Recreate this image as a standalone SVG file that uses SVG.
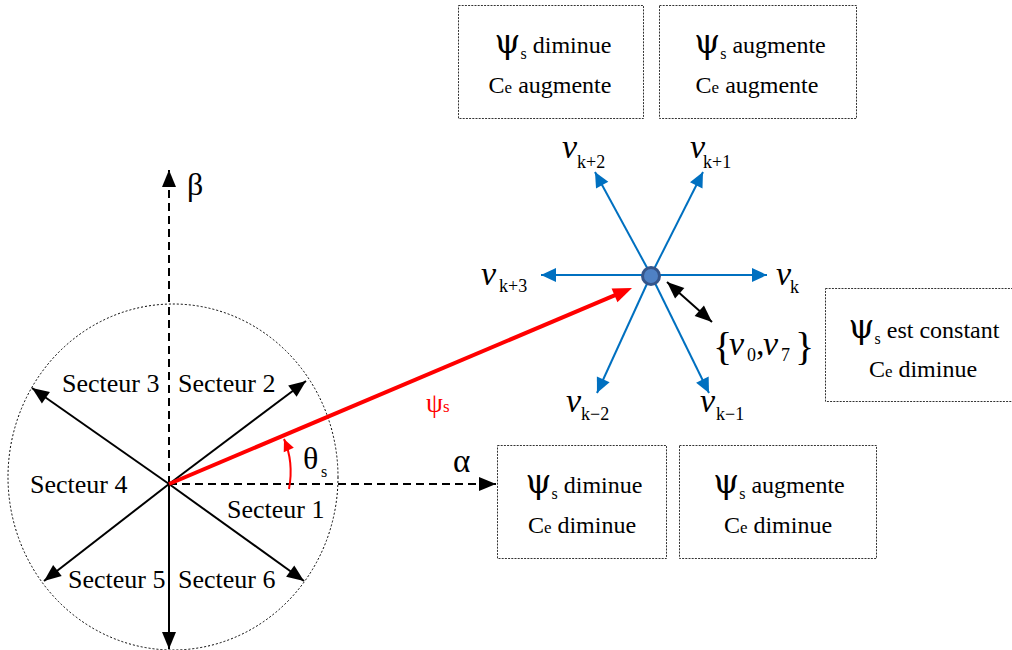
<svg xmlns="http://www.w3.org/2000/svg" width="1012" height="650" viewBox="0 0 1012 650">
<defs>
<style>
text{font-family:"Liberation Serif","Times New Roman",serif;fill:#000}
.box{fill:#fff;stroke:#333;stroke-width:1;stroke-dasharray:2 1.2}
.bt{font-size:24px;text-anchor:middle}
.psi{font-size:33px;font-family:"DejaVu Serif",serif}
.sub{font-size:16px}
.sec{font-size:26px}
.vi{font-size:34px;font-style:italic}
.vs{font-size:18px;font-style:normal}
.blk{stroke:#000;stroke-width:2;fill:none}
.dash{stroke:#000;stroke-width:2;fill:none;stroke-dasharray:8 5}
.blu{stroke:#0070C0;stroke-width:2;fill:none}
</style>
<marker id="ab" markerUnits="userSpaceOnUse" markerWidth="20" markerHeight="16" viewBox="0 -8 18 16" refX="17" refY="0" orient="auto-start-reverse"><path d="M0,-7 L17,0 L0,7 z" fill="#000"/></marker>
<marker id="au" markerUnits="userSpaceOnUse" markerWidth="18" markerHeight="16" viewBox="0 -8 16 16" refX="15" refY="0" orient="auto"><path d="M0,-7 L15,0 L0,7 z" fill="#0070C0"/></marker>
<marker id="ar" markerUnits="userSpaceOnUse" markerWidth="22" markerHeight="18" viewBox="0 -9 20 18" refX="9" refY="0" orient="auto"><path d="M0,-7.5 L19,0 L0,7.5 z" fill="#FF0000"/></marker>
<marker id="ar2" markerUnits="userSpaceOnUse" markerWidth="14" markerHeight="12" viewBox="0 -6 13 12" refX="12" refY="0" orient="auto"><path d="M0,-5.5 L12,0 L0,5.5 z" fill="#FF0000"/></marker>
</defs>
<rect width="1012" height="650" fill="#fff"/>

<g id="circle">
<ellipse cx="173" cy="477" rx="165" ry="173" fill="none" stroke="#000" stroke-width="1" stroke-dasharray="2 2"/>
</g>

<g id="connectors">
<line class="dash" x1="169" y1="484" x2="169" y2="170" marker-end="url(#ab)"/>
<line class="dash" x1="169" y1="484" x2="496" y2="484" marker-end="url(#ab)"/>
<line class="blk" x1="169" y1="484" x2="306" y2="381" marker-end="url(#ab)"/>
<line class="blk" x1="169" y1="484" x2="32" y2="388" marker-end="url(#ab)"/>
<line class="blk" x1="169" y1="484" x2="44" y2="581" marker-end="url(#ab)"/>
<line class="blk" x1="169" y1="484" x2="304" y2="581" marker-end="url(#ab)"/>
<line class="blk" x1="169" y1="484" x2="169" y2="649" marker-end="url(#ab)"/>
<line stroke="#FF0000" stroke-width="4" x1="169" y1="484" x2="622.8" y2="291.9" marker-end="url(#ar)"/>
<path d="M289,489 Q294,462 284,439" fill="none" stroke="#FF0000" stroke-width="2" marker-end="url(#ar2)"/>
<line class="blu" x1="651" y1="275" x2="767" y2="275" marker-end="url(#au)"/>
<line class="blu" x1="651" y1="275" x2="541" y2="275" marker-end="url(#au)"/>
<line class="blu" x1="651" y1="275" x2="703" y2="172" marker-end="url(#au)"/>
<line class="blu" x1="651" y1="275" x2="595" y2="172" marker-end="url(#au)"/>
<line class="blu" x1="651" y1="275" x2="597" y2="393" marker-end="url(#au)"/>
<line class="blu" x1="651" y1="275" x2="709" y2="393" marker-end="url(#au)"/>
<line class="blk" x1="667" y1="282" x2="712" y2="322" marker-start="url(#ab)" marker-end="url(#ab)"/>
</g>

<g id="center-dot">
<circle cx="651" cy="276" r="8.5" fill="#4F81C4" stroke="#35558A" stroke-width="3"/>
</g>

<g id="axis-labels">
<text x="187" y="195" font-size="32">β</text>
<text x="453" y="472" font-size="33">α</text>
<text x="303" y="469" font-size="32">θ<tspan x="321" y="477" font-size="16">s</tspan></text>
<text x="426" y="412" font-size="27" style="fill:#FF0000">ψ<tspan x="443" font-size="17" style="fill:#FF0000">s</tspan></text>
</g>

<g id="sectors">
<text class="sec" x="62" y="392">Secteur 3</text>
<text class="sec" x="178" y="392">Secteur 2</text>
<text class="sec" x="30" y="493">Secteur 4</text>
<text class="sec" x="227" y="518">Secteur 1</text>
<text class="sec" x="68" y="588">Secteur 5</text>
<text class="sec" x="178" y="588">Secteur 6</text>
</g>

<g id="vector-labels">
<text class="vi" x="562" y="158">v<tspan class="vs" x="577" y="168">k+2</tspan></text>
<text class="vi" x="690" y="158">v<tspan class="vs" x="703" y="168">k+1</tspan></text>
<text class="vi" x="481" y="285">v<tspan class="vs" x="499" y="292">k+3</tspan></text>
<text class="vi" x="776" y="285">v<tspan class="vs" x="790" y="293">k</tspan></text>
<text class="vi" x="566" y="412">v<tspan class="vs" x="581" y="420">k−2</tspan></text>
<text class="vi" x="700" y="412">v<tspan class="vs" x="716" y="420">k−1</tspan></text>
</g>

<g id="zero-vectors">
<text x="713" y="360" font-size="40">{<tspan class="vi" x="729" y="355">v</tspan><tspan class="vs" x="747" y="361">0</tspan><tspan x="756" y="355" font-size="34">,</tspan><tspan class="vi" x="763" y="355">v</tspan><tspan class="vs" x="781" y="361">7</tspan><tspan x="795" y="360" font-size="40">}</tspan></text>
</g>

<g id="box-top-left">
<rect class="box" x="458.5" y="5.5" width="185" height="113"/>
<text class="bt" x="553" y="53"><tspan class="psi">ψ</tspan><tspan class="sub" dy="6">s</tspan><tspan dy="-6"> diminue</tspan></text>
<text class="bt" x="550" y="93">C<tspan font-size="17">e</tspan> augmente</text>
</g>

<g id="box-top-right">
<rect class="box" x="659.5" y="5.5" width="197" height="113"/>
<text class="bt" x="760" y="53"><tspan class="psi">ψ</tspan><tspan class="sub" dy="6">s</tspan><tspan dy="-6"> augmente</tspan></text>
<text class="bt" x="757" y="93">C<tspan font-size="17">e</tspan> augmente</text>
</g>

<g id="box-right">
<rect class="box" x="825.5" y="288.5" width="190" height="113"/>
<text class="bt" x="924" y="338"><tspan class="psi">ψ</tspan><tspan class="sub" dy="6">s</tspan><tspan dy="-6"> est constant</tspan></text>
<text class="bt" x="923" y="377">C<tspan font-size="17">e</tspan> diminue</text>
</g>

<g id="box-bottom-left">
<rect class="box" x="497.5" y="445.5" width="169" height="113"/>
<text class="bt" x="584" y="493"><tspan class="psi">ψ</tspan><tspan class="sub" dy="6">s</tspan><tspan dy="-6"> diminue</tspan></text>
<text class="bt" x="582" y="533">C<tspan font-size="17">e</tspan> diminue</text>
</g>

<g id="box-bottom-right">
<rect class="box" x="679.5" y="445.5" width="197" height="113"/>
<text class="bt" x="779" y="493"><tspan class="psi">ψ</tspan><tspan class="sub" dy="6">s</tspan><tspan dy="-6"> augmente</tspan></text>
<text class="bt" x="778" y="533">C<tspan font-size="17">e</tspan> diminue</text>
</g>
</svg>
